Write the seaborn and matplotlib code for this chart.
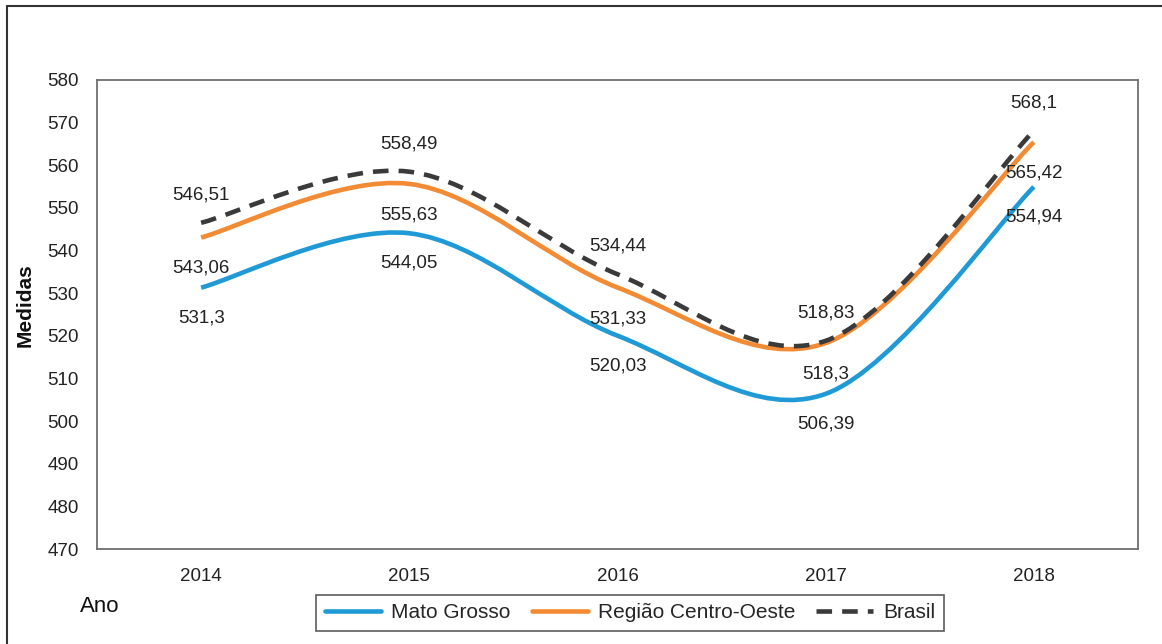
import matplotlib
matplotlib.use('Agg')
import matplotlib.pyplot as plt
from matplotlib.path import Path
from matplotlib.patches import PathPatch
from matplotlib.lines import Line2D
import seaborn as sns
import numpy as np

# ====================== DADOS ======================
anos = ['2014', '2015', '2016', '2017', '2018']
mato_grosso = [531.3, 544.05, 520.03, 506.39, 554.94]
centro_oeste = [543.06, 555.63, 531.33, 518.3, 565.42]
brasil = [546.51, 558.49, 534.44, 518.83, 568.1]

# ====================== ESTILO ======================
sns.set_theme(style='white')
plt.rcParams['font.family'] = ['Liberation Sans', 'DejaVu Sans']

AZUL = '#1f9ad6'
LARANJA = '#f28b34'
CINZA = '#3a3a3a'
TRACO = (0, (3.4, 2.2))


def curva_suave(ax, valores, **kw):
    # curva "suavizada" estilo Excel (Bezier cúbica, Catmull-Rom 1/6)
    x = np.arange(len(valores), dtype=float)
    y = np.asarray(valores, dtype=float)
    n = len(y)
    verts = [(x[0], y[0])]
    codes = [Path.MOVETO]
    for i in range(n - 1):
        p0 = max(i - 1, 0)
        p3 = min(i + 2, n - 1)
        c1 = (x[i] + (x[i + 1] - x[p0]) / 6, y[i] + (y[i + 1] - y[p0]) / 6)
        c2 = (x[i + 1] - (x[p3] - x[i]) / 6, y[i + 1] - (y[p3] - y[i]) / 6)
        verts += [c1, c2, (x[i + 1], y[i + 1])]
        codes += [Path.CURVE4] * 3
    patch = PathPatch(Path(verts, codes), fill=False, transform=ax.transData,
                      capstyle='butt', joinstyle='round', **kw)
    ax.add_patch(patch)
    return patch


fig = plt.figure(figsize=(11.62, 6.44), dpi=100)
fig.patch.set_facecolor('white')
ax = fig.add_axes([0.0835, 0.1475, 0.8958, 0.7283])
ax.set_facecolor('white')

curva_suave(ax, mato_grosso, edgecolor=AZUL, linewidth=3.3)
curva_suave(ax, centro_oeste, edgecolor=LARANJA, linewidth=3.3)
curva_suave(ax, brasil, edgecolor=CINZA, linewidth=3.3, linestyle=TRACO)

# rótulos de dados
fmt = lambda v: f'{v:g}'.replace('.', ',')
for i in range(len(anos)):
    ax.annotate(fmt(brasil[i]), (i, brasil[i]), xytext=(0, 28), textcoords='offset pixels',
                ha='center', va='center', fontsize=13.5, color='#222222')
    ax.annotate(fmt(centro_oeste[i]), (i, centro_oeste[i]), xytext=(0, -31), textcoords='offset pixels',
                ha='center', va='center', fontsize=13.5, color='#222222')
    ax.annotate(fmt(mato_grosso[i]), (i, mato_grosso[i]), xytext=(0, -30), textcoords='offset pixels',
                ha='center', va='center', fontsize=13.5, color='#222222')

ax.set_xlim(-0.5, len(anos) - 0.5)
ax.set_ylim(470, 580)
ax.set_xticks(range(len(anos)))
ax.set_xticklabels(anos)
ax.set_yticks(np.arange(470, 581, 10))
ax.tick_params(axis='both', length=0, labelsize=13.5, colors='#222222')
ax.tick_params(axis='y', pad=13)
ax.tick_params(axis='x', pad=14)
for s in ax.spines.values():
    s.set_visible(True)
    s.set_color('#707070')
    s.set_linewidth(1.3)

fig.text(25 / 1162, 1 - 305 / 644, 'Medidas', rotation=90, ha='center', va='center',
         fontsize=15, fontweight='bold', color='#111111')
fig.text(100 / 1162, 1 - 607 / 644, 'Ano', ha='center', va='center',
         fontsize=16, color='#111111')

# legenda
handles = [
    Line2D([], [], color=AZUL, linewidth=3.3),
    Line2D([], [], color=LARANJA, linewidth=3.3),
    Line2D([], [], color=CINZA, linewidth=3.3, linestyle=TRACO),
]
leg = fig.legend(handles, ['Mato Grosso', 'Região Centro-Oeste', 'Brasil'],
                 loc='center', bbox_to_anchor=(630 / 1162, 1 - 613 / 644), ncol=3,
                 frameon=True, fancybox=False, fontsize=15, handlelength=2.7,
                 columnspacing=1.0, handletextpad=0.5, borderpad=0.4,
                 borderaxespad=0)
leg.get_frame().set_edgecolor('#333333')
leg.get_frame().set_linewidth(1.2)

# borda da imagem (topo e esquerda)
fig.add_artist(Line2D([7 / 1162, 1], [1 - 6 / 644, 1 - 6 / 644], transform=fig.transFigure,
                      color='#333333', linewidth=1.5))
fig.add_artist(Line2D([7 / 1162, 7 / 1162], [0, 1 - 6 / 644], transform=fig.transFigure,
                      color='#333333', linewidth=1.5))

plt.savefig('out.png', dpi=100, facecolor='white')
plt.close()
